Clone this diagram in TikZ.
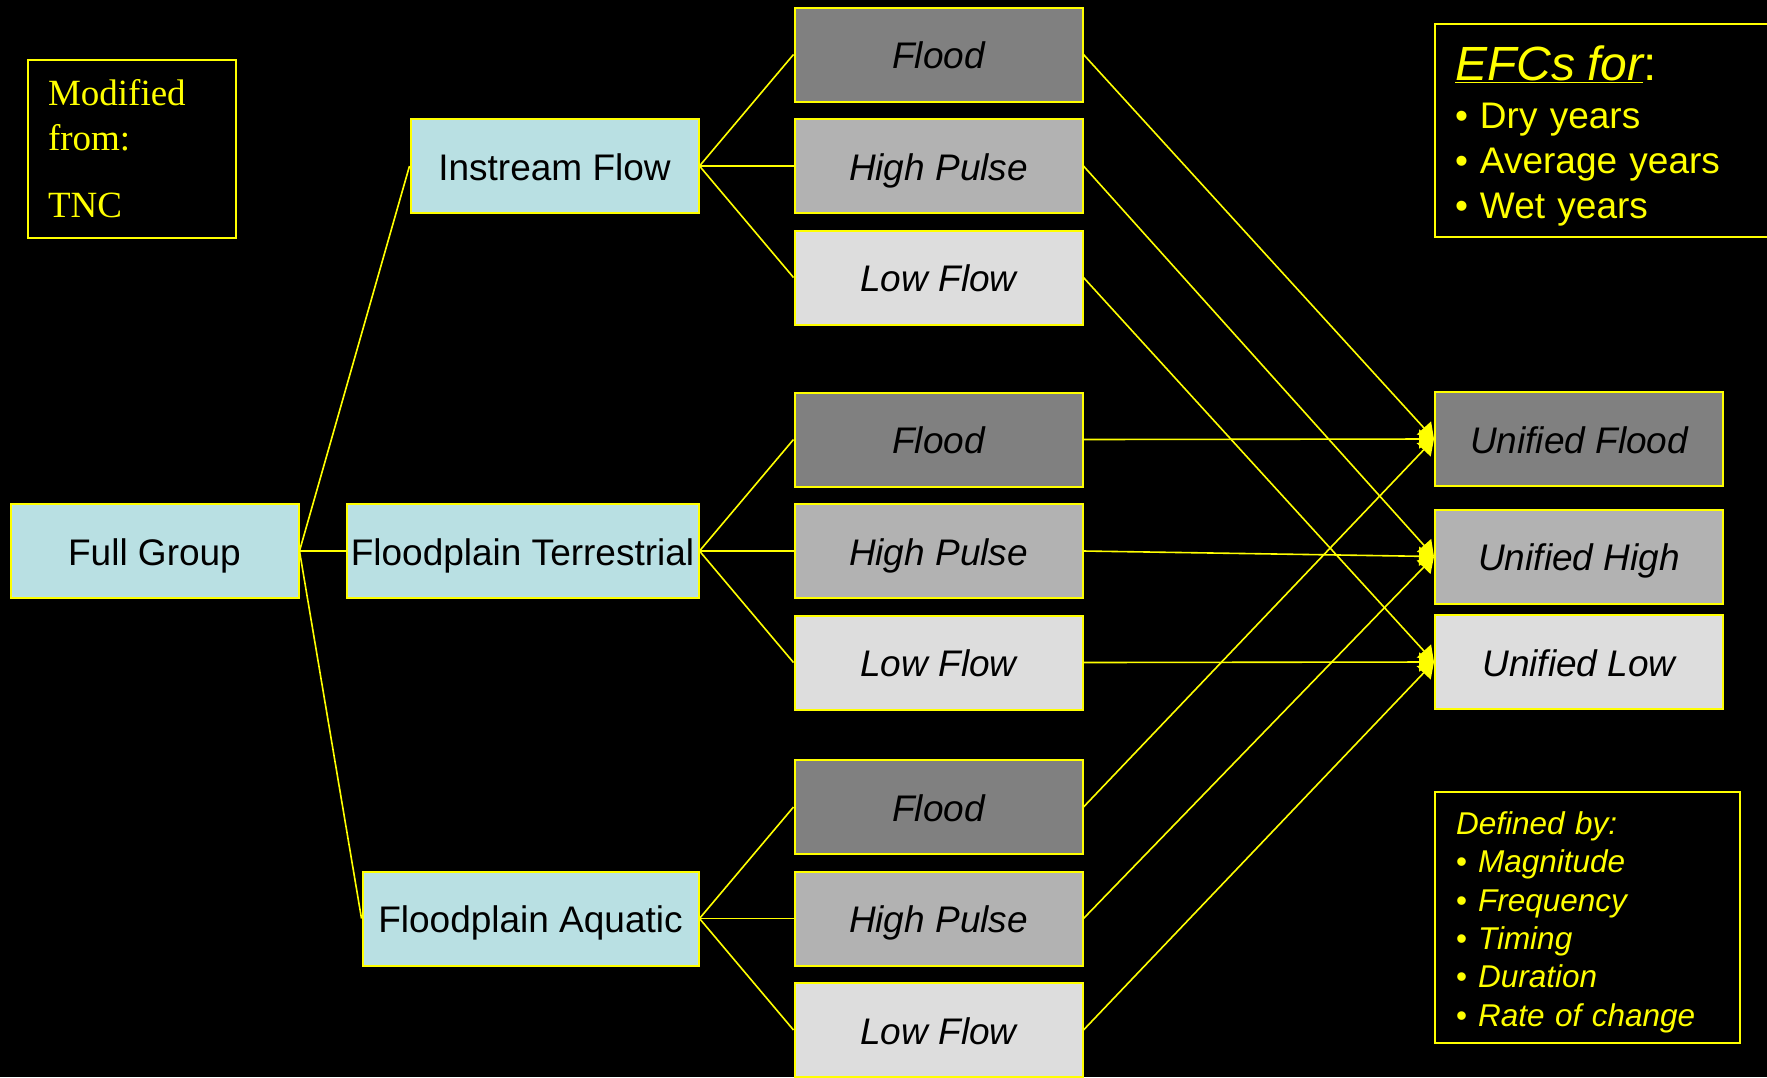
\documentclass[tikz,border=0pt]{standalone}
\usepackage{fontspec}
\setmainfont{Liberation Sans}
\newfontfamily\tncfont{Liberation Serif}
\usetikzlibrary{positioning,arrows.meta}
\definecolor{efcyellow}{RGB}{255,255,0}
\definecolor{groupblue}{RGB}{185,224,227}
\definecolor{floodgray}{RGB}{128,128,128}
\definecolor{pulsegray}{RGB}{178,178,178}
\definecolor{lowgray}{RGB}{221,221,221}
\newcommand{\boxtxt}{\fontsize{37}{44}\selectfont}
\newcommand{\efcitem}[1]{\makebox[25pt][l]{•}#1}
\newcommand{\defitem}[1]{\makebox[22pt][l]{\upshape •}#1}

\begin{document}
\begin{tikzpicture}[x=1pt,y=-1pt,
		box/.style={draw=efcyellow, line width=2pt, minimum height=94pt, inner sep=0pt, text height=30pt, text depth=2pt, font=\boxtxt, text=black},
		group/.style={box, fill=groupblue},
		flood/.style={box, fill=floodgray, minimum width=288pt, font=\boxtxt\itshape},
		pulse/.style={flood, fill=pulsegray},
		lowflow/.style={flood, fill=lowgray},
		link/.style={draw=efcyellow, line width=1.6pt},
		feed/.style={link, -{Triangle[length=15pt,width=19pt]}},
		note/.style={draw=efcyellow, line width=2pt, text=efcyellow, align=left, inner ysep=0pt, anchor=north west},
	]
	\useasboundingbox (0,0) rectangle (1767,1077);
	\fill[black] (0,0) rectangle (1767,1077);
	%
	\node[group, minimum width=288pt] (full) at (154.5,551) {Full Group};
	\node[group, minimum width=288pt] (instream) at (554.5,166) {Instream Flow};
	\node[group, minimum width=352pt] (terr) at (522.5,551) {Floodplain Terrestrial};
	\node[group, minimum width=336pt] (aqua) at (530.5,918.5) {Floodplain Aquatic};
	%
	\node[pulse, right=94pt of instream] (ipulse) {High Pulse};
	\node[flood, above=15.5pt of ipulse] (iflood) {Flood};
	\node[lowflow, below=15.5pt of ipulse] (ilow) {Low Flow};
	\node[pulse, right=94pt of terr] (tpulse) {High Pulse};
	\node[flood, above=15.5pt of tpulse] (tflood) {Flood};
	\node[lowflow, below=15.5pt of tpulse] (tlow) {Low Flow};
	\node[pulse, right=94pt of aqua] (apulse) {High Pulse};
	\node[flood, above=15.5pt of apulse] (aflood) {Flood};
	\node[lowflow, below=15.5pt of apulse] (alow) {Low Flow};
	%
	\node[flood] (uflood) at (1579,439) {Unified Flood};
	\node[pulse] (uhigh) at (1579,556.5) {Unified High};
	\node[lowflow] (ulow) at (1579,662) {Unified Low};
	%
	\node[note, minimum width=208pt, minimum height=178pt, text width=168pt, inner xsep=20pt,
		font=\tncfont\fontsize{37}{45}\selectfont] (tnc) at (27,59) {Modified\\from:\\[22pt]TNC};
	\node[note, minimum width=400pt, minimum height=213pt, text width=360pt, inner xsep=20pt,
		font=\fontsize{37}{45}\selectfont] (efcs) at (1434,23)
		{{\fontsize{48}{48}\selectfont\rule{0pt}{45pt}\underline{\itshape EFCs for}:}\\[3pt]
		\efcitem{Dry years}\\\efcitem{Average years}\\\efcitem{Wet years}};
	\node[note, minimum width=305pt, minimum height=251pt, text width=263pt, inner xsep=21pt,
		font=\fontsize{31.5}{38.4}\selectfont\itshape] (defby) at (1434,791)
		{\rule{0pt}{32pt}Defined by:\\\defitem{Magnitude}\\\defitem{Frequency}\\\defitem{Timing}\\\defitem{Duration}\\\defitem{Rate of change}};
	%
	\draw[link] (full.east) -- (instream.west);
	\draw[link] (full.east) -- (terr.west);
	\draw[link] (full.east) -- (aqua.west);
	%
	\draw[link] (instream.east) -- (iflood.west);
	\draw[link] (instream.east) -- (ipulse.west);
	\draw[link] (instream.east) -- (ilow.west);
	\draw[link] (terr.east) -- (tflood.west);
	\draw[link] (terr.east) -- (tpulse.west);
	\draw[link] (terr.east) -- (tlow.west);
	\draw[link] (aqua.east) -- (aflood.west);
	\draw[link] (aqua.east) -- (apulse.west);
	\draw[link] (aqua.east) -- (alow.west);
	%
	\draw[feed] (iflood.east) -- (uflood.west);
	\draw[feed] (tflood.east) -- (uflood.west);
	\draw[feed] (aflood.east) -- (uflood.west);
	\draw[feed] (ipulse.east) -- (uhigh.west);
	\draw[feed] (tpulse.east) -- (uhigh.west);
	\draw[feed] (apulse.east) -- (uhigh.west);
	\draw[feed] (ilow.east) -- (ulow.west);
	\draw[feed] (tlow.east) -- (ulow.west);
	\draw[feed] (alow.east) -- (ulow.west);
\end{tikzpicture}
\end{document}
